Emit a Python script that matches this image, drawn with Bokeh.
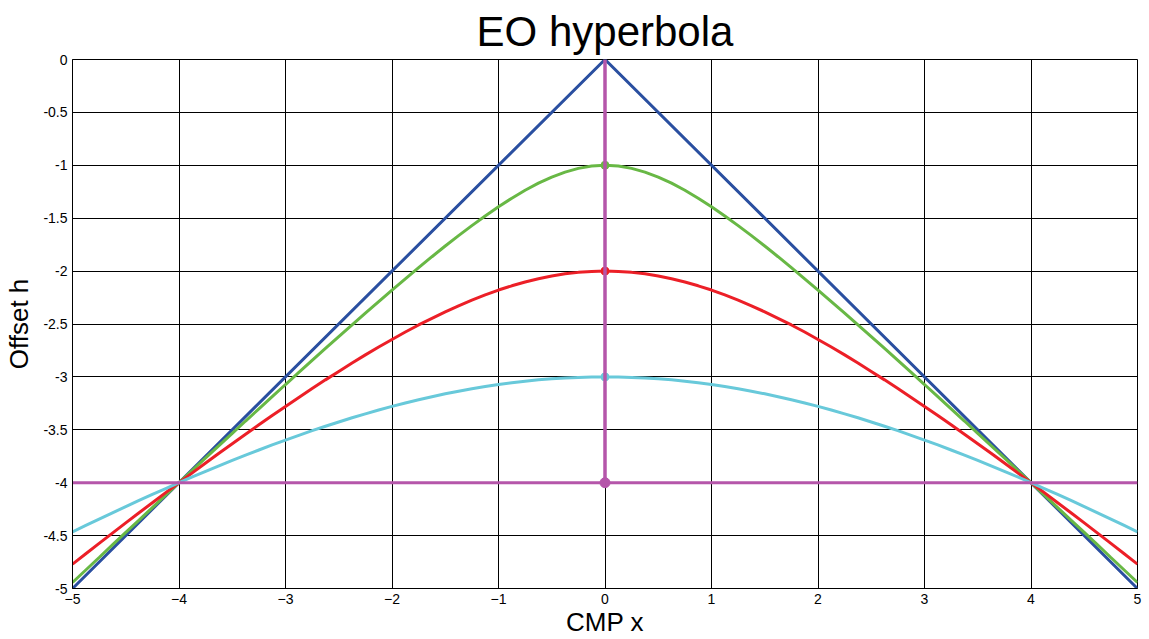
from bokeh.plotting import figure
from bokeh.models import FixedTicker, Range1d
from bokeh.embed import file_html
from bokeh.resources import INLINE

# x positions sampled along the CMP axis
x_samples = [-5.0, -4.875, -4.75, -4.625, -4.5, -4.375, -4.25, -4.125, -4.0, -3.875,
             -3.75, -3.625, -3.5, -3.375, -3.25, -3.125, -3.0, -2.875, -2.75, -2.625,
             -2.5, -2.375, -2.25, -2.125, -2.0, -1.875, -1.75, -1.625, -1.5, -1.375,
             -1.25, -1.125, -1.0, -0.875, -0.75, -0.625, -0.5, -0.375, -0.25, -0.125,
             0.0,
             0.125, 0.25, 0.375, 0.5, 0.625, 0.75, 0.875, 1.0, 1.125, 1.25,
             1.375, 1.5, 1.625, 1.75, 1.875, 2.0, 2.125, 2.25, 2.375, 2.5,
             2.625, 2.75, 2.875, 3.0, 3.125, 3.25, 3.375, 3.5, 3.625, 3.75,
             3.875, 4.0, 4.125, 4.25, 4.375, 4.5, 4.625, 4.75, 4.875, 5.0]

green_h = [-4.943, -4.825, -4.707, -4.588, -4.470, -4.353, -4.235, -4.117, -4.000, -3.883,
           -3.766, -3.650, -3.533, -3.417, -3.302, -3.187, -3.072, -2.958, -2.844, -2.731,
           -2.619, -2.508, -2.397, -2.288, -2.179, -2.073, -1.968, -1.864, -1.763, -1.665,
           -1.570, -1.479, -1.392, -1.311, -1.236, -1.169, -1.111, -1.064, -1.029, -1.007,
           -1.000,
           -1.007, -1.029, -1.064, -1.111, -1.169, -1.236, -1.311, -1.392, -1.479, -1.570,
           -1.665, -1.763, -1.864, -1.968, -2.073, -2.179, -2.288, -2.397, -2.508, -2.619,
           -2.731, -2.844, -2.958, -3.072, -3.187, -3.302, -3.417, -3.533, -3.650, -3.766,
           -3.883, -4.000, -4.117, -4.235, -4.353, -4.470, -4.588, -4.707, -4.825, -4.943]

red_h = [-4.770, -4.672, -4.574, -4.477, -4.380, -4.284, -4.189, -4.094, -4.000, -3.907,
         -3.814, -3.722, -3.632, -3.542, -3.453, -3.365, -3.279, -3.194, -3.110, -3.028,
         -2.948, -2.869, -2.792, -2.718, -2.646, -2.576, -2.509, -2.446, -2.385, -2.328,
         -2.274, -2.225, -2.179, -2.139, -2.103, -2.072, -2.046, -2.026, -2.012, -2.003,
         -2.000,
         -2.003, -2.012, -2.026, -2.046, -2.072, -2.103, -2.139, -2.179, -2.225, -2.274,
         -2.328, -2.385, -2.446, -2.509, -2.576, -2.646, -2.718, -2.792, -2.869, -2.948,
         -3.028, -3.110, -3.194, -3.279, -3.365, -3.453, -3.542, -3.632, -3.722, -3.814,
         -3.907, -4.000, -4.094, -4.189, -4.284, -4.380, -4.477, -4.574, -4.672, -4.770]

cyan_h = [-4.465, -4.404, -4.344, -4.285, -4.226, -4.168, -4.111, -4.055, -4.000, -3.946,
          -3.893, -3.841, -3.789, -3.739, -3.691, -3.643, -3.597, -3.552, -3.508, -3.466,
          -3.426, -3.386, -3.349, -3.313, -3.279, -3.246, -3.216, -3.187, -3.160, -3.135,
          -3.112, -3.091, -3.072, -3.055, -3.041, -3.028, -3.018, -3.010, -3.005, -3.001,
          -3.000,
          -3.001, -3.005, -3.010, -3.018, -3.028, -3.041, -3.055, -3.072, -3.091, -3.112,
          -3.135, -3.160, -3.187, -3.216, -3.246, -3.279, -3.313, -3.349, -3.386, -3.426,
          -3.466, -3.508, -3.552, -3.597, -3.643, -3.691, -3.739, -3.789, -3.841, -3.893,
          -3.946, -4.000, -4.055, -4.111, -4.168, -4.226, -4.285, -4.344, -4.404, -4.465]

blue_x = [-5, 0, 5]
blue_h = [-5, 0, -5]

vert_x = [0, 0]
vert_h = [0, -4]
horiz_x = [-5, 5]
horiz_h = [-4, -4]

apex_x = [0, 0, 0, 0]
apex_h = [-1, -2, -3, -4]

x_ticks = [-5, -4, -3, -2, -1, 0, 1, 2, 3, 4, 5]
y_ticks = [0, -0.5, -1, -1.5, -2, -2.5, -3, -3.5, -4, -4.5, -5]
y_tick_labels = ["0", "-0.5", "-1", "-1.5", "-2", "-2.5", "-3", "-3.5", "-4", "-4.5", "-5"]

BLUE = "#2a4fa0"
GREEN = "#68b845"
RED = "#ec1f27"
CYAN = "#68c9da"
MAGENTA = "#b556aa"

FONT = "Liberation Sans"

p = figure(width=1149, height=639, output_backend="svg", toolbar_location=None,
           x_range=Range1d(-5, 5), y_range=Range1d(-5, 0),
           title="EO hyperbola", min_border_left=72, min_border_right=12,
           min_border_bottom=50, min_border_top=59)

p.title.align = "center"
p.title.text_font = FONT
p.title.text_font_size = "42px"
p.title.text_font_style = "normal"
p.title.text_color = "black"
p.title.standoff = 9

p.outline_line_color = "black"
p.outline_line_width = 1
p.background_fill_color = "white"
p.border_fill_color = "white"

for ax in (p.xaxis[0], p.yaxis[0]):
    ax.axis_line_color = "black"
    ax.major_tick_in = 0
    ax.major_tick_out = 0
    ax.minor_tick_line_color = None
    ax.major_label_text_font = FONT
    ax.major_label_text_font_size = "14px"
    ax.major_label_text_color = "black"
    ax.axis_label_text_font = FONT
    ax.axis_label_text_font_size = "26px"
    ax.axis_label_text_font_style = "normal"
    ax.axis_label_text_color = "black"

p.xaxis.ticker = FixedTicker(ticks=x_ticks)
p.yaxis.ticker = FixedTicker(ticks=y_ticks)
p.yaxis.major_label_overrides = {t: l for t, l in zip(y_ticks, y_tick_labels)}
p.xaxis.axis_label = "CMP x"
p.yaxis.axis_label = "Offset h"
p.xaxis.major_label_standoff = 5
p.yaxis.major_label_standoff = 5
p.xaxis.axis_label_standoff = 0
p.yaxis.axis_label_standoff = 6

p.xgrid.ticker = FixedTicker(ticks=x_ticks)
p.ygrid.ticker = FixedTicker(ticks=y_ticks)
for g in (p.xgrid[0], p.ygrid[0]):
    g.grid_line_color = "black"
    g.grid_line_width = 1
    g.grid_line_alpha = 1.0

p.line(blue_x, blue_h, line_color=BLUE, line_width=3)
p.line(x_samples, green_h, line_color=GREEN, line_width=3)
p.line(x_samples, red_h, line_color=RED, line_width=3)
p.line(x_samples, cyan_h, line_color=CYAN, line_width=3)

p.scatter(apex_x[:3], apex_h[:3], size=8, color=[GREEN, RED, CYAN])
p.line(vert_x, vert_h, line_color=MAGENTA, line_width=3.5)
p.line(horiz_x, horiz_h, line_color=MAGENTA, line_width=3)
p.scatter(apex_x[3:], apex_h[3:], size=10, color=MAGENTA)

open("out.html", "w").write(file_html(p, INLINE))
